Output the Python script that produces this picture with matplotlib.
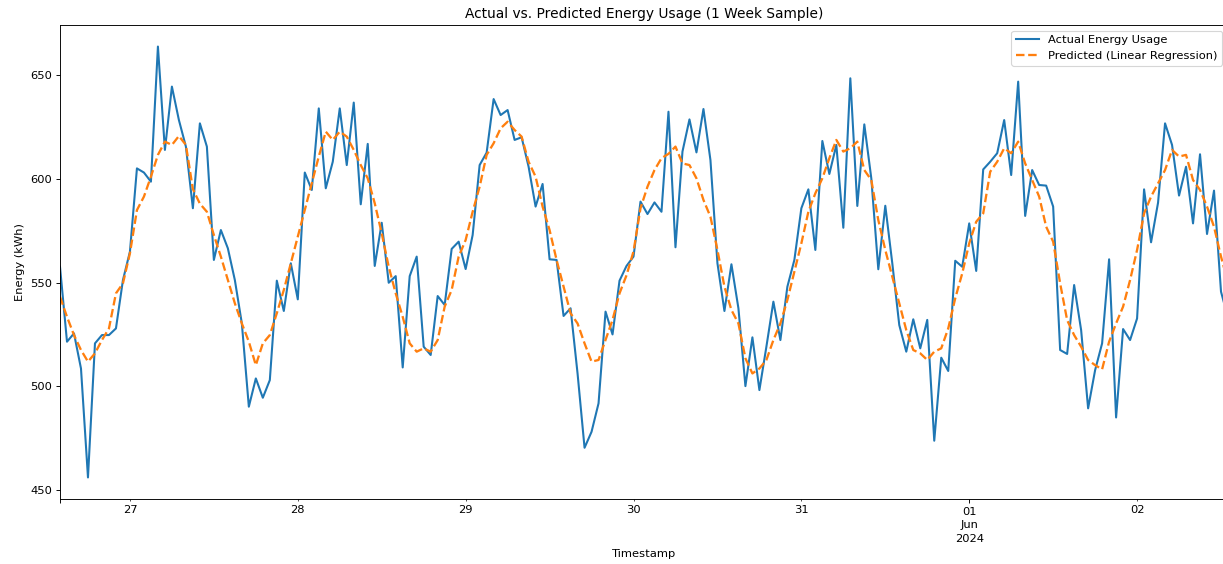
import numpy as np
import pandas as pd
import matplotlib
matplotlib.use('Agg')
import matplotlib.pyplot as plt

start_time = '2024-05-26 14:00'

actual_usage = [
    557.6, 521.5, 525.5, 508.6, 456.1, 520.7, 524.7, 524.7, 527.9, 551.2,
    564.9, 605.0, 603.0, 598.6, 663.7, 613.9, 644.4, 628.3, 615.5, 585.8,
    626.7, 615.5, 560.9, 575.3, 566.5, 551.2, 530.3, 490.2, 503.8, 494.5,
    503.0, 550.9, 536.3, 559.3, 541.9, 603.0, 594.6, 633.9, 595.4, 608.2,
    633.9, 606.6, 636.7, 587.7, 616.8, 558.0, 578.8, 549.9, 553.1, 509.1,
    553.1, 562.5, 519.1, 515.1, 543.5, 539.2, 566.2, 569.7, 556.5, 572.9,
    606.6, 612.6, 638.4, 630.7, 633.1, 618.7, 620.0, 605.8, 586.6, 597.5,
    561.2, 560.9, 533.9, 537.6, 506.2, 470.4, 478.1, 491.8, 536.0, 525.0,
    550.9, 558.0, 562.5, 589.0, 583.0, 588.6, 584.1, 632.3, 567.0, 613.1,
    628.6, 612.7, 633.6, 609.0, 559.3, 536.3, 558.8, 537.6, 500.1, 523.6,
    498.2, 519.1, 540.8, 522.3, 548.0, 560.9, 585.8, 594.9, 565.7, 618.2,
    602.3, 616.3, 576.4, 648.4, 586.9, 626.2, 600.2, 556.4, 587.0, 559.3,
    529.5, 516.7, 532.3, 518.3, 532.0, 473.8, 513.8, 507.4, 560.5, 557.6,
    578.5, 555.6, 604.5, 608.2, 612.3, 628.3, 601.8, 646.8, 582.1, 604.2,
    597.0, 596.7, 586.6, 517.5, 515.6, 548.8, 527.1, 489.4, 507.8, 520.7,
    561.2, 485.0, 527.6, 522.3, 532.7, 594.9, 569.4, 588.5, 626.7, 616.3,
    591.9, 605.8, 578.5, 611.8, 573.4, 594.3, 545.6, 533.0,
]

predicted_usage = [
    543.2, 533.5, 524.7, 517.5, 511.9, 515.9, 522.3, 527.9, 544.8, 549.6,
    564.1, 584.9, 591.4, 601.0, 611.5, 617.9, 616.3, 620.6, 616.3, 595.0,
    588.0, 584.1, 572.9, 562.5, 551.2, 540.0, 530.3, 521.5, 510.2, 520.7,
    524.7, 535.2, 546.4, 559.3, 572.1, 584.9, 597.8, 610.7, 622.7, 618.7,
    622.7, 620.3, 613.9, 606.6, 600.2, 588.2, 573.7, 557.6, 544.8, 533.5,
    520.7, 516.7, 518.3, 516.7, 522.3, 538.4, 546.4, 562.5, 570.5, 584.1,
    596.2, 611.5, 617.1, 624.3, 627.5, 623.5, 620.3, 608.2, 601.0, 586.6,
    575.3, 560.9, 548.0, 535.2, 530.3, 520.7, 511.9, 512.7, 522.3, 532.0,
    544.8, 553.5, 565.0, 585.8, 596.2, 604.2, 609.9, 612.0, 615.5, 607.4,
    606.6, 600.2, 589.8, 581.7, 565.7, 548.0, 536.8, 530.3, 513.5, 506.2,
    508.6, 512.7, 522.3, 530.3, 541.6, 555.2, 568.9, 584.1, 593.0, 600.2,
    609.9, 618.7, 613.1, 614.7, 617.9, 604.2, 599.4, 580.1, 565.7, 552.8,
    540.0, 527.1, 517.5, 515.9, 512.7, 516.7, 518.3, 527.9, 542.4, 554.4,
    568.9, 579.3, 583.3, 603.4, 608.2, 614.7, 612.3, 617.9, 607.4, 599.4,
    591.4, 576.9, 569.7, 549.6, 531.9, 524.7, 519.1, 512.7, 510.2, 508.2,
    521.5, 530.3, 538.4, 551.2, 565.7, 583.3, 591.4, 597.8, 604.2, 613.9,
    610.7, 611.5, 599.4, 594.6, 586.6, 576.9, 562.5, 550.0,
]

# the reference is a scaled-down render, so draw at a matching lower dpi
DPI = 82.64
WIDTH_PX, HEIGHT_PX = 1223, 564


def main():
    timestamps = pd.date_range(start_time, periods=len(actual_usage), freq='h', name='Timestamp')
    df = pd.DataFrame({'actual': actual_usage, 'predicted': predicted_usage}, index=timestamps)

    fig = plt.figure(figsize=(WIDTH_PX / DPI, HEIGHT_PX / DPI), dpi=DPI)
    # right spine sits just past the image edge, as in the cropped original
    ax = fig.add_axes([60 / WIDTH_PX, 65 / HEIGHT_PX, 1168 / WIDTH_PX, 474 / HEIGHT_PX])
    df['actual'].plot(ax=ax, color='#1f77b4', linewidth=1.8, label='Actual Energy Usage')
    df['predicted'].plot(ax=ax, color='#ff7f0e', linestyle='--', linewidth=2,
                         label='Predicted (Linear Regression)')
    ax.set_title('Actual vs. Predicted Energy Usage (1 Week Sample)')
    ax.set_xlabel('Timestamp')
    ax.set_ylabel('Energy (kWh)')
    ax.legend(loc='upper right')

    # date labels like "01\nJun\n2024" are spaced a little wider in the reference
    fig.canvas.draw()
    for lbl in ax.get_xticklabels(which='both'):
        lbl.set_linespacing(1.43)
    fig.savefig('out.png', dpi=DPI)


if __name__ == '__main__':
    main()
